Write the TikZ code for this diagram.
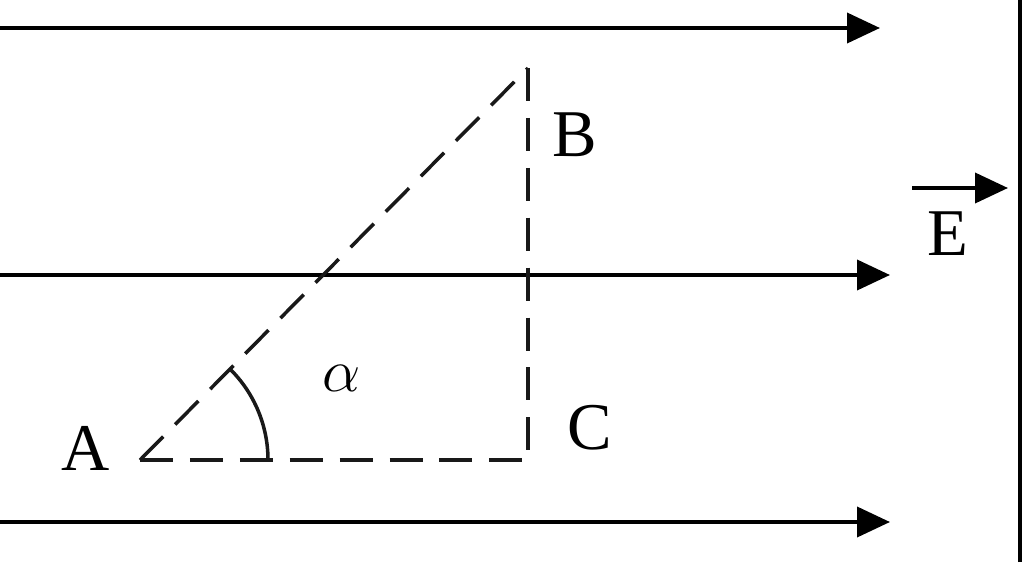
\documentclass[tikz,border=0pt]{standalone}
\usepackage{fontspec}
\setmainfont{Liberation Serif}
\usetikzlibrary{arrows.meta}
\begin{document}
\begin{tikzpicture}
  \def\linew{1.1pt}
  \tikzstyle{field} = [line width=\linew, -{Triangle[length=0.33cm, width=0.30cm]}]
  \tikzstyle{aux} = [line width=1pt, dash pattern=on 9.4pt off 4.8pt, gray!20!black]
  \tikzstyle{lbl} = [inner sep=0pt, font=\fontsize{19}{22}\selectfont]

  \useasboundingbox (0,0) rectangle (10.24,5.62);

  % field lines
  \coordinate (t0) at (0, 5.34);
  \coordinate (t1) at (8.80, 5.34);
  \coordinate (m0) at (0, 2.87);
  \coordinate (m1) at (8.90, 2.87);
  \coordinate (b0) at (0, 0.40);
  \coordinate (b1) at (8.90, 0.40);
  \draw[field] (t0) -- (t1);
  \draw[field] (m0) -- (m1);
  \draw[field] (b0) -- (b1);

  % field vector
  \coordinate (e0) at (9.12, 3.74);
  \coordinate (e1) at (10.08, 3.74);
  \draw[field] (e0) -- (e1);
  \node[lbl] (E) at (9.48, 3.28) {E};

  % triangle
  \coordinate (A) at (1.40, 1.02);
  \coordinate (B) at (5.28, 4.94);
  \coordinate (C) at (5.28, 1.02);
  \draw[aux] (A) -- (B);
  \draw[aux] (A) -- (C);
  \draw[aux] (B) -- (C);
  \draw[line width=1pt, gray!20!black] ([shift={(1.28,0)}]A) arc[start angle=0, end angle=45.3, radius=1.28];

  \node[lbl] (la) at (0.86, 1.14) {A};
  \node[lbl] (lb) at (5.75, 4.27) {B};
  \node[lbl] (lc) at (5.90, 1.34) {C};
  \node[lbl] (alpha) at (3.42, 1.84) {$\alpha$};

  % frame edge
  \coordinate (r0) at (10.20, 0);
  \coordinate (r1) at (10.20, 5.62);
  \draw[line width=\linew] (r0) -- (r1);
\end{tikzpicture}
\end{document}
